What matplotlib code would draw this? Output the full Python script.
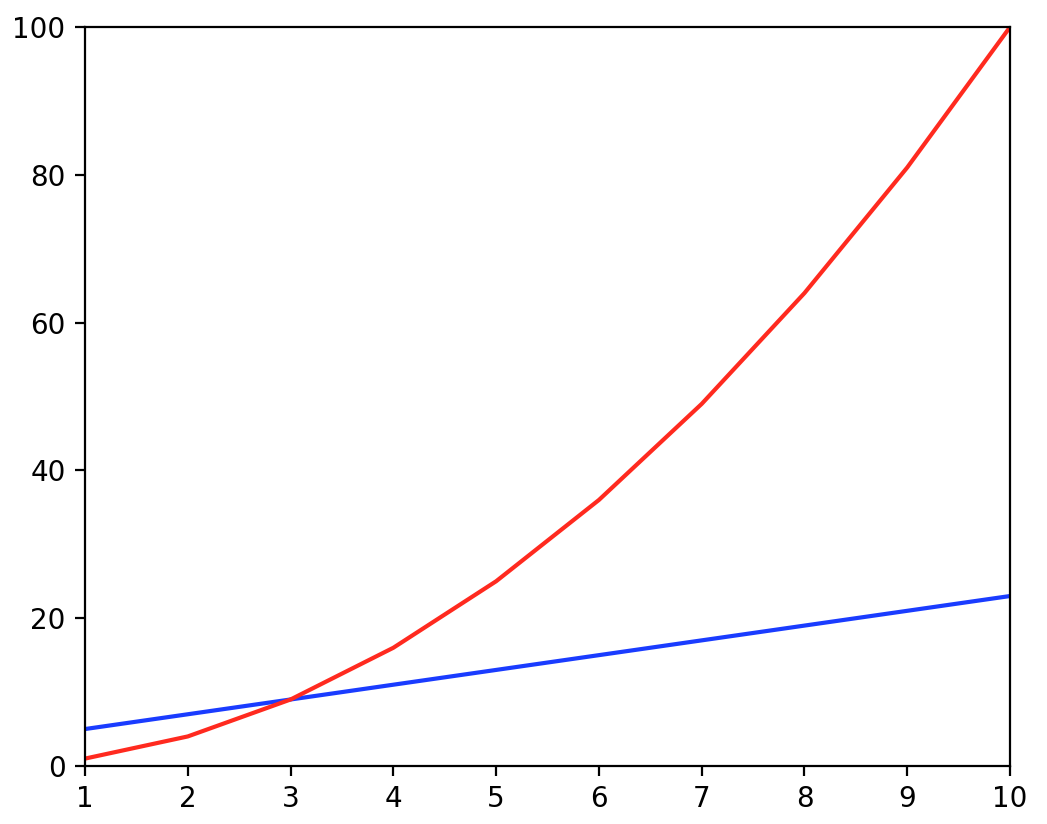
import matplotlib
matplotlib.use("Agg")
import matplotlib.pyplot as plt

x = [1, 2, 3, 4, 5, 6, 7, 8, 9, 10]
linear = [5, 7, 9, 11, 13, 15, 17, 19, 21, 23]
square = [1, 4, 9, 16, 25, 36, 49, 64, 81, 100]

fig = plt.figure(figsize=(5.235, 4.12), dpi=200)
ax = fig.add_axes([0.0812, 0.0704, 0.8835, 0.8968])
ax.plot(x, linear, color='#1a3cff', lw=1.5)
ax.plot(x, square, color='#ff2a1f', lw=1.5)
ax.set_xlim(1, 10)
ax.set_ylim(0, 100)
ax.set_xticks(x)
ax.set_yticks([0, 20, 40, 60, 80, 100])

fig.savefig('out.png', dpi=200)
